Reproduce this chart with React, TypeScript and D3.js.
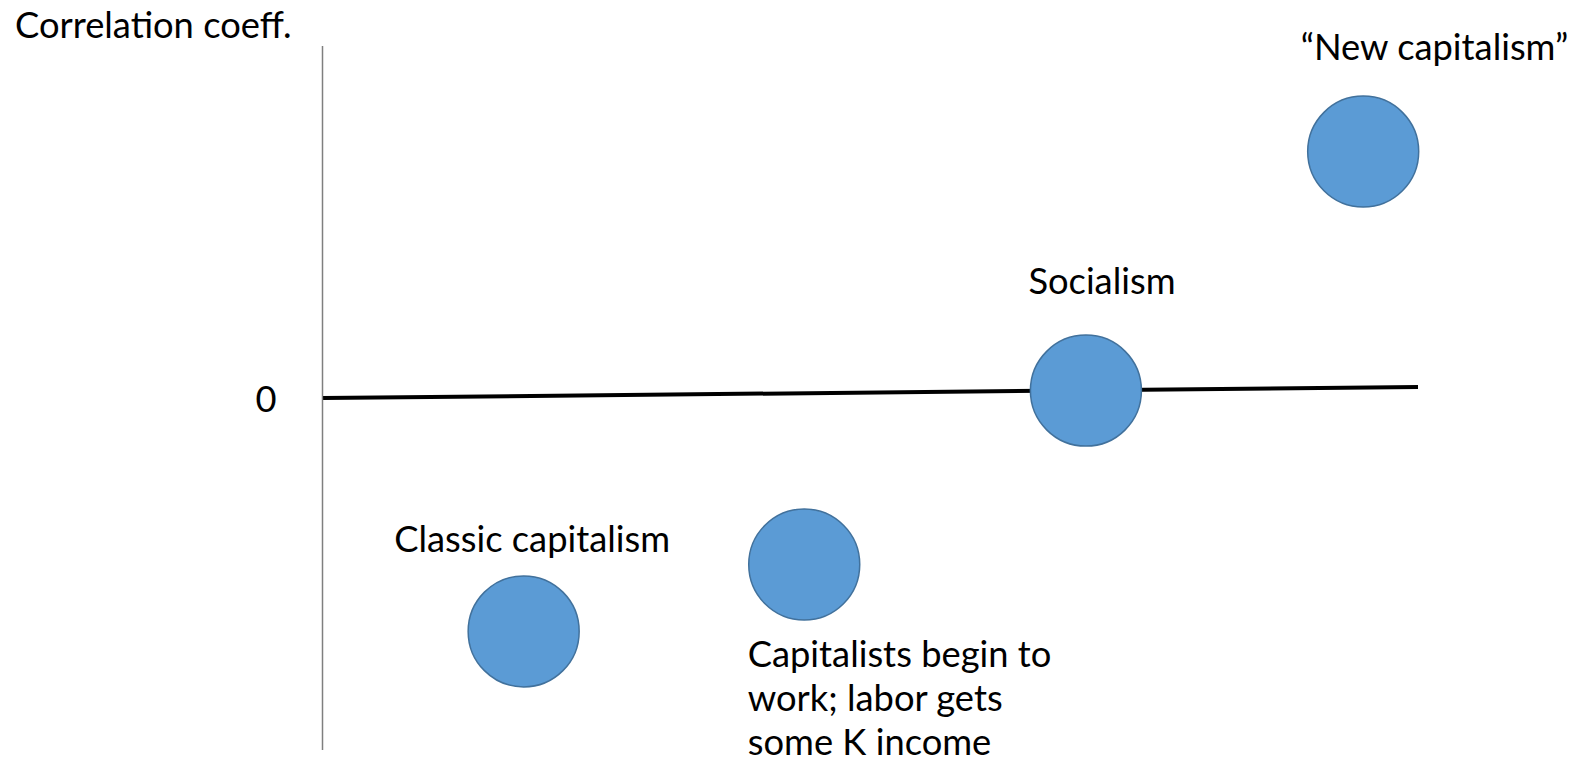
import React from "react";
import * as d3 from "d3";

// Regimes (categories) and their positions in the (x, correlation) plane
const regimes = ["Classic capitalism", "Capitalists begin to work; labor gets some K income", "Socialism", "\u201cNew capitalism\u201d"];
const regimeX = [0.184, 0.44, 0.697, 0.95];
const regimeCorr = [-0.663, -0.473, 0.021, 0.70];
// label lines for each regime
const regimeLabelLines = [
  ["Classic capitalism"],
  ["Capitalists begin to", "work; labor gets", "some K income"],
  ["Socialism"],
  ["\u201cNew capitalism\u201d"],
];
// zero reference line (slightly tilted as drawn in the original)
const zeroLineX = [0.001, 1];
const zeroLineY = [0, 0.031];
const yTickLabels = ["0"];
const yTickValues = [0];
const yAxisTitle = "Correlation coeff.";

const W = 1581;
const H = 763;
const FONT = "Lato, 'Open Sans', sans-serif";
const FS = 36.3;

// label offsets relative to circle centre (dx, dy of first baseline)
const labelOffsets: [number, number][] = [
  [-129.5, -79.5],
  [-56.5, 102.5],
  [-57.5, -96.5],
  [-62.5, -91.5],
];

export default function App() {
  const x = d3.scaleLinear().domain([0, 1]).range([322, 1418]);
  const y = d3.scaleLinear().domain([-1, 1]).range([750, 46]);
  const line = d3
    .line<number>()
    .x((_, i) => x(zeroLineX[i]))
    .y((d) => y(d));

  return (
    <svg
      width={W}
      height={H}
      style={{ position: "absolute", left: 0, top: 0, display: "block", background: "#fff" }}
    >
      {/* y axis */}
      <line x1={x(0) + 0.5} x2={x(0) + 0.5} y1={y(1)} y2={y(-1)} stroke="#7f7f7f" strokeWidth={1.5} />
      {/* zero line */}
      <path d={line(zeroLineY) || ""} stroke="#000" strokeWidth={4} fill="none" />
      {/* y ticks */}
      {yTickValues.map((v, i) => (
        <text key={i} x={266} y={y(v) + 14} textAnchor="middle" fontFamily={FONT} fontSize={FS} fill="#000">
          {yTickLabels[i]}
        </text>
      ))}
      <text x={15} y={38} fontFamily={FONT} fontSize={FS} fill="#000">
        {yAxisTitle}
      </text>
      {/* circles */}
      {regimes.map((r, i) => (
        <circle
          key={r}
          cx={x(regimeX[i])}
          cy={y(regimeCorr[i])}
          r={55.5}
          fill="#5b9bd5"
          stroke="#41719c"
          strokeWidth={1.5}
        />
      ))}
      {/* labels */}
      {regimes.map((r, i) => (
        <text
          key={r + "-l"}
          x={x(regimeX[i]) + labelOffsets[i][0]}
          y={y(regimeCorr[i]) + labelOffsets[i][1]}
          fontFamily={FONT}
          fontSize={FS}
          fill="#000"
        >
          {regimeLabelLines[i].map((ln, j) => (
            <tspan key={j} x={x(regimeX[i]) + labelOffsets[i][0]} dy={j === 0 ? 0 : 44}>
              {ln}
            </tspan>
          ))}
        </text>
      ))}
    </svg>
  );
}
